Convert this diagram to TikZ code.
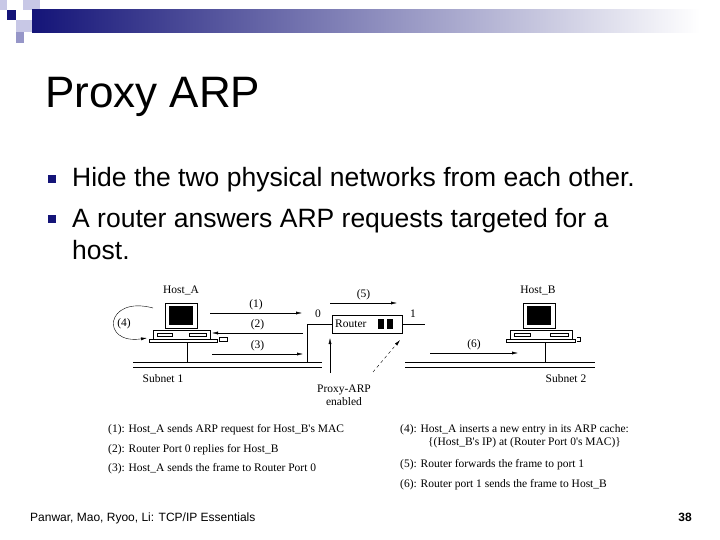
\documentclass[tikz,border=0pt]{standalone}
\usepackage{fontspec}
\setmainfont{Liberation Sans}
\newfontfamily\figfont{Liberation Serif}
\usetikzlibrary{arrows.meta,positioning}
\definecolor{navy}{RGB}{20,20,120}
\definecolor{lav}{RGB}{200,200,230}
\definecolor{lavm}{RGB}{150,150,200}
\tikzset{
  figtext/.style={font=\figfont\fontsize{11.5}{13}\selectfont,inner sep=0pt},
  legtext/.style={font=\figfont\fontsize{11.5}{13}\selectfont,inner sep=0pt,anchor=base west},
  msg/.style={-{Latex[length=6pt,width=3pt]},thin},
  net/.style={thin}
}
\begin{document}
\begin{tikzpicture}[x=1pt,y=-1pt]
\useasboundingbox (0,0) rectangle (720,540);
% ================= header
\fill[navy] (7,10) rectangle (16,20);
\fill[lav] (23,0) rectangle (40,10);
\fill[lav] (0,0) rectangle (7,10);
\fill[lavm] (32,10) rectangle (40,20);
\fill[lav] (16,20) rectangle (32,32);
\fill[lavm] (16,32) rectangle (24,43);
\shade[left color=navy,right color=white] (32,10) rectangle (700,33);
\node[anchor=base west,inner sep=0pt,font=\fontsize{44}{48}\selectfont] (title) at (45,108) {Proxy ARP};
% ================= bullets
\foreach \y/\t [count=\i] in {187/{Hide the two physical networks from each other.},
                              227/{A router answers ARP requests targeted for a}} {
  \fill[navy] (48,\y-12) rectangle ++(8,8);
  \node[anchor=base west,inner sep=0pt,font=\fontsize{26.5}{30}\selectfont] (b\i) at (72,\y) {\t};
}
\node[anchor=base west,inner sep=0pt,font=\fontsize{26.5}{30}\selectfont] (b3) at (72,259) {host.};
% ================= Host_A
\draw[thin] (165,303) rectangle (197,328);
\fill (169,306) rectangle (193,325);
\draw[thin] (153,330) rectangle (210,339);
\draw[thin] (157,333) rectangle (172,336);
\draw[thin] (189,333) rectangle (206,336);
\draw[thin] (149,339) rectangle (217,342);
\draw[thin] (219,337) rectangle (227,341);
\node[figtext] (hosta) at (181,290) {Host\_A};
% ================= Host_B
\draw[thin] (523,303) rectangle (555,328);
\fill (527,306) rectangle (551,325);
\draw[thin] (510,330) rectangle (572,339);
\draw[thin] (514,333) rectangle (530,336);
\draw[thin] (550,333) rectangle (568,336);
\draw[thin] (506,339) rectangle (575,342);
\draw[thin] (577,337) -- (580,337) -- (580,341) -- (577,341);
\node[figtext] (hostb) at (538,290) {Host\_B};
% ================= router
\node[draw,thin,minimum width=70pt,minimum height=18pt,inner sep=0pt] (router) at (367,324) {};
\node[figtext,anchor=west] (rtext) at (335,324) {Router};
\fill (378,319) rectangle (384,329);
\fill (387,319) rectangle (393,329);
\node[figtext] (p0) at (318,314) {0};
\node[figtext] (p1) at (413,314) {1};
\coordinate (r0) at (307,324);
\coordinate (r1) at (425,324);
\draw[net] (router.west) -- (r0) -- (307,362);
\draw[net] (router.east) -- (r1);
% ================= subnets
\draw[net] (133,362) -- (322,362) (133,367) -- (322,367);
\draw[net] (405,362) -- (595,362) (405,367) -- (595,367);
\draw[net] (187,342) -- (187,362);
\draw[net] (545,342) -- (545,362);
\node[figtext] (sub1) at (163,379) {Subnet 1};
\node[figtext] (sub2) at (566,379) {Subnet 2};
% ================= messages
\draw[msg] (210,313) -- node[figtext,above=3pt] (m1) {(1)} (302,313);
\draw[msg] (303,333) -- node[figtext,above=3pt] (m2) {(2)} (212,333);
\draw[msg] (212,354) -- node[figtext,above=3pt] (m3) {(3)} (303,354);
\draw[msg] (330,303) -- node[figtext,above=3pt] (m5) {(5)} (397,303);
\draw[msg] (430,353) -- node[figtext,above=3pt] (m6) {(6)} (518,353);
\draw[msg] (153,308) .. controls (105,295) and (100,345) .. (147,338);
\node[figtext] (m4) at (124,324) {(4)};
% ================= proxy arp
\node[figtext,align=center] (proxy) at (344,395) {Proxy-ARP\\enabled};
\draw[msg] (330,373) -- (330,338);
\draw[msg,dashed] (373,372) -- (400,340);
% ================= legend
\node[legtext] (l1) at (108,432) {(1): Host\_A sends ARP request for Host\_B's MAC};
\node[legtext] (l2) at (108,452) {(2): Router Port 0 replies for Host\_B};
\node[legtext] (l3) at (108,471) {(3): Host\_A sends the frame to Router Port 0};
\node[legtext] (l4) at (400,432) {(4): Host\_A inserts a new entry in its ARP cache:};
\node[legtext] (l4b) at (428,445) {\{(Host\_B's IP) at (Router Port 0's MAC)\}};
\node[legtext] (l5) at (400,467) {(5): Router forwards the frame to port 1};
\node[legtext] (l6) at (400,487) {(6): Router port 1 sends the frame to Host\_B};
% ================= footer
\node[anchor=base west,inner sep=0pt,font=\fontsize{12}{14}\selectfont] (foot) at (30,521) {Panwar, Mao, Ryoo, Li: TCP/IP Essentials};
\node[anchor=base east,inner sep=0pt,font=\bfseries\fontsize{12}{14}\selectfont] (page) at (692,521) {38};
\end{tikzpicture}
\end{document}
